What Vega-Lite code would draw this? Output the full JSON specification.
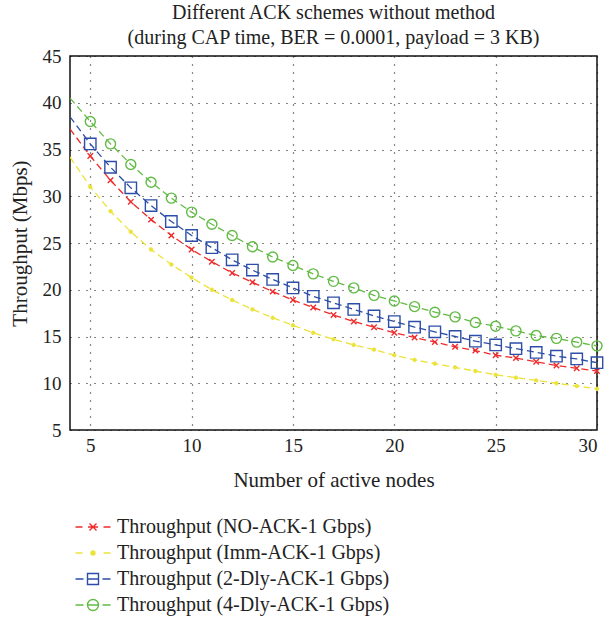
{
  "$schema": "https://vega.github.io/schema/vega-lite/v6.json",
  "width": 527,
  "height": 374,
  "autosize": {"type": "none"},
  "padding": {"left": 70, "top": 56, "right": 9, "bottom": 193},
  "background": "white",
  "title": {
    "text": ["Different ACK schemes without method", "(during CAP time, BER = 0.0001, payload = 3 KB)"],
    "font": "Liberation Serif",
    "fontSize": 20,
    "fontWeight": "normal",
    "color": "#222222",
    "lineHeight": 25,
    "offset": -1,
    "anchor": "middle"
  },
  "config": {
    "view": {"stroke": "#111111", "strokeWidth": 1.5},
    "axis": {
      "labelFont": "Liberation Serif",
      "titleFont": "Liberation Serif",
      "labelFontSize": 19,
      "titleFontSize": 21,
      "titleFontWeight": "normal",
      "labelColor": "#222222",
      "titleColor": "#222222",
      "domain": false,
      "grid": true,
      "gridColor": "#111111",
      "gridDash": [1, 7],
      "gridWidth": 1.2,
      "ticks": false
    },
    "legend": {
      "labelFont": "Liberation Serif",
      "labelFontSize": 20,
      "labelColor": "#222222",
      "labelLimit": 500
    }
  },
  "data": {
    "values": [
      {"x": 4, "NO": 37.2, "Imm": 34.2, "2Dly": 38.5, "4Dly": 40.5},
      {"x": 5, "NO": 34.3, "Imm": 31.0, "2Dly": 35.6, "4Dly": 38.0},
      {"x": 6, "NO": 31.7, "Imm": 28.4, "2Dly": 33.1, "4Dly": 35.6},
      {"x": 7, "NO": 29.4, "Imm": 26.2, "2Dly": 30.9, "4Dly": 33.4},
      {"x": 8, "NO": 27.5, "Imm": 24.3, "2Dly": 29.0, "4Dly": 31.5},
      {"x": 9, "NO": 25.8, "Imm": 22.7, "2Dly": 27.3, "4Dly": 29.8},
      {"x": 10, "NO": 24.3, "Imm": 21.3, "2Dly": 25.8, "4Dly": 28.3},
      {"x": 11, "NO": 23.0, "Imm": 20.0, "2Dly": 24.5, "4Dly": 27.0},
      {"x": 12, "NO": 21.8, "Imm": 18.9, "2Dly": 23.2, "4Dly": 25.8},
      {"x": 13, "NO": 20.8, "Imm": 17.9, "2Dly": 22.1, "4Dly": 24.6},
      {"x": 14, "NO": 19.8, "Imm": 17.0, "2Dly": 21.1, "4Dly": 23.5},
      {"x": 15, "NO": 18.9, "Imm": 16.2, "2Dly": 20.2, "4Dly": 22.6},
      {"x": 16, "NO": 18.1, "Imm": 15.4, "2Dly": 19.3, "4Dly": 21.7},
      {"x": 17, "NO": 17.3, "Imm": 14.7, "2Dly": 18.6, "4Dly": 20.9},
      {"x": 18, "NO": 16.6, "Imm": 14.1, "2Dly": 17.9, "4Dly": 20.2},
      {"x": 19, "NO": 16.0, "Imm": 13.6, "2Dly": 17.2, "4Dly": 19.4},
      {"x": 20, "NO": 15.4, "Imm": 13.0, "2Dly": 16.6, "4Dly": 18.8},
      {"x": 21, "NO": 14.9, "Imm": 12.5, "2Dly": 16.0, "4Dly": 18.2},
      {"x": 22, "NO": 14.4, "Imm": 12.1, "2Dly": 15.5, "4Dly": 17.6},
      {"x": 23, "NO": 13.9, "Imm": 11.7, "2Dly": 15.0, "4Dly": 17.1},
      {"x": 24, "NO": 13.5, "Imm": 11.3, "2Dly": 14.5, "4Dly": 16.5},
      {"x": 25, "NO": 13.0, "Imm": 10.9, "2Dly": 14.1, "4Dly": 16.1},
      {"x": 26, "NO": 12.7, "Imm": 10.6, "2Dly": 13.7, "4Dly": 15.6},
      {"x": 27, "NO": 12.3, "Imm": 10.3, "2Dly": 13.3, "4Dly": 15.1},
      {"x": 28, "NO": 11.9, "Imm": 10.0, "2Dly": 12.9, "4Dly": 14.8},
      {"x": 29, "NO": 11.6, "Imm": 9.7, "2Dly": 12.6, "4Dly": 14.4},
      {"x": 30, "NO": 11.3, "Imm": 9.4, "2Dly": 12.2, "4Dly": 14.0}
    ]
  },
  "transform": [{"fold": ["NO", "Imm", "2Dly", "4Dly"], "as": ["s", "y"]}],
  "encoding": {
    "x": {
      "field": "x", "type": "quantitative",
      "scale": {"domain": [4, 30], "nice": false, "zero": false},
      "axis": {"values": [5, 10, 15, 20, 25, 30], "title": "Number of active nodes", "labelPadding": 6, "titlePadding": 14}
    },
    "y": {
      "field": "y", "type": "quantitative",
      "scale": {"domain": [5, 45], "nice": false, "zero": false},
      "axis": {"values": [5, 10, 15, 20, 25, 30, 35, 40, 45], "title": "Throughput (Mbps)", "labelPadding": 9, "titlePadding": 12}
    }
  },
  "layer": [
    {
      "mark": {"type": "line", "strokeDash": [7, 4], "strokeWidth": 1.3, "clip": true},
      "encoding": {
        "color": {
          "field": "s", "type": "nominal",
          "scale": {"domain": ["NO", "Imm", "2Dly", "4Dly"], "range": ["#ee2b2b", "#ece33a", "#2d4ea8", "#62bb45"]},
          "legend": {
            "title": null,
            "orient": "none",
            "legendX": 13,
            "legendY": 461,
            "direction": "vertical",
            "padding": 0,
            "symbolSize": 100,
            "symbolStrokeWidth": 1.4,
            "labelOffset": 14,
            "rowPadding": 6,
            "labelExpr": "{'NO':'Throughput (NO-ACK-1 Gbps)','Imm':'Throughput (Imm-ACK-1 Gbps)','2Dly':'Throughput (2-Dly-ACK-1 Gbps)','4Dly':'Throughput (4-Dly-ACK-1 Gbps)'}[datum.label]",
            "encode": {
              "symbols": {
                "update": {
                  "shape": {"signal": "datum.value === 'NO' ? 'M-3.5,0H-2.1M2.1,0H3.5M-0.7,-0.7L0.7,0.7M-0.7,0.7L0.7,-0.7M-1,0H1' : datum.value === 'Imm' ? 'M-3.5,0H-2.1M2.1,0H3.5M0.4,0A0.4,0.4 0 1,1 -0.4,0A0.4,0.4 0 1,1 0.4,0Z' : datum.value === '2Dly' ? 'M-3.5,0H-1.9M1.9,0H3.5M-1.1,-1.1H1.1V1.1H-1.1ZM-1.1,0H1.1' : 'M-3.5,0H-1.9M1.9,0H3.5M1.1,0A1.1,1.1 0 1,1 -1.1,0A1.1,1.1 0 1,1 1.1,0ZM-1.1,0H1.1'"},
                  "fill": {"signal": "datum.value === 'Imm' ? '#ece33a' : 'transparent'"},
                  "strokeDash": {"value": []},
                  "opacity": {"value": 1}
                }
              }
            }
          }
        }
      }
    },
    {
      "transform": [{"filter": "datum.x >= 5 && datum.s === 'NO'"}],
      "mark": {"type": "point", "shape": "M-1,-1L1,1M-1,1L1,-1", "size": 30, "strokeWidth": 1.4, "stroke": "#ee2b2b", "fill": "transparent", "opacity": 1}
    },
    {
      "transform": [{"filter": "datum.x >= 5 && datum.s === 'Imm'"}],
      "mark": {"type": "point", "shape": "circle", "size": 12, "strokeWidth": 1, "stroke": "#ece33a", "fill": "#ece33a", "opacity": 1}
    },
    {
      "transform": [{"filter": "datum.x >= 5 && datum.s === '2Dly'"}],
      "mark": {"type": "point", "shape": "square", "size": 130, "strokeWidth": 1.4, "stroke": "#2d4ea8", "fill": "transparent", "opacity": 1}
    },
    {
      "transform": [{"filter": "datum.x >= 5 && datum.s === '4Dly'"}],
      "mark": {"type": "point", "shape": "circle", "size": 100, "strokeWidth": 1.4, "stroke": "#62bb45", "fill": "transparent", "opacity": 1}
    }
  ]
}
